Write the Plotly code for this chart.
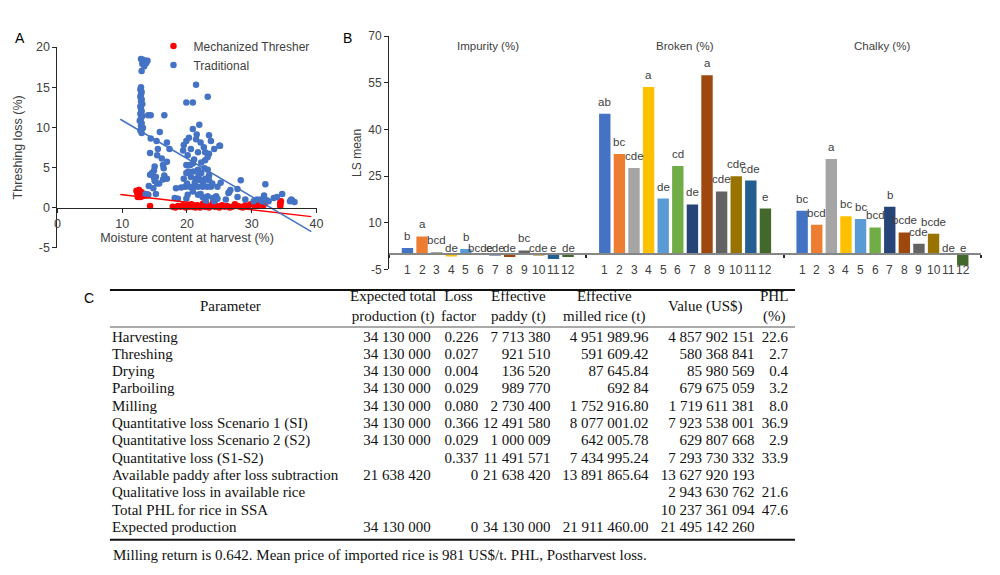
import plotly.graph_objects as go

# ---------------- Panel A data ----------------
mech_points = [
    (12.2, 2.1), (12.3, 1.9), (12.4, 1.7), (12.5, 2.0), (12.6, 1.5), (12.7, 1.8), (12.8, 1.3),
    (12.9, 1.6), (13.0, 1.9), (13.1, 1.4), (13.2, 1.7), (13.3, 1.5), (13.5, 1.6), (13.8, 1.5),
    (14.0, 1.6), (12.4, 1.3), (12.6, 2.2), (14.3, 0.2),
    (17.8, 0.1), (18.2, 0.0), (18.6, 0.2), (19.0, 0.1), (19.4, 0.3), (19.8, 0.0), (20.1, 0.2),
    (20.4, 0.1), (20.7, 0.4), (21.0, 0.2), (21.3, 0.0), (21.6, 0.3), (21.9, 0.1), (22.2, 0.2),
    (22.5, 0.5), (22.8, 0.1), (23.1, 0.3), (23.4, 0.0), (23.7, 0.2), (24.0, 0.6), (24.3, 0.1),
    (24.6, 0.2), (25.0, 0.0), (25.4, 0.3), (25.8, 0.1), (26.2, 0.2), (26.6, 0.0), (27.0, 0.1),
    (27.4, 0.4), (27.8, 0.2), (28.2, 0.1), (28.6, 0.0), (29.0, 0.3), (29.4, 0.1), (29.8, 0.4),
    (20.9, 0.1), (22.0, 0.0), (23.0, 0.1), (24.4, 0.3), (21.5, 0.1),
    (30.5, 0.2), (30.8, 0.5), (31.0, 0.3), (31.2, 0.7), (31.4, 0.4), (31.6, 0.8), (31.8, 0.3),
    (32.0, 0.5), (34.4, 0.2), (34.4, 0.4), (34.4, 0.6), (34.5, 0.8),
]
trad_points = [
    (12.9, 18.5), (13.2, 18.4), (13.6, 18.3), (13.9, 18.3), (13.1, 17.9), (13.4, 17.6), (13.0, 17.0), (13.7, 18.0),
    (12.9, 15.0), (12.8, 14.7), (13.0, 14.4), (12.9, 14.1), (12.8, 13.8), (13.0, 13.5), (12.9, 13.2), (13.1, 12.9),
    (12.8, 12.6), (12.9, 12.3), (13.0, 12.0), (12.8, 11.7), (13.1, 11.4), (12.9, 11.1), (12.7, 10.8), (13.0, 10.5),
    (12.9, 10.2), (13.2, 9.9), (12.8, 9.6), (13.0, 9.3),
    (14.0, 11.5), (14.4, 11.5), (16.5, 11.5), (15.8, 9.4), (14.4, 8.6), (16.9, 8.1), (15.3, 8.3), (15.5, 7.3),
    (14.3, 6.8), (17.3, 7.3), (16.1, 6.1), (15.4, 6.5), (16.3, 5.3), (15.0, 5.1), (14.9, 4.6), (14.3, 4.1),
    (14.9, 3.7), (15.0, 3.3), (15.4, 3.0), (16.3, 3.5), (16.9, 3.6), (16.4, 4.9), (16.9, 5.7), (14.1, 2.7),
    (15.2, 1.7), (14.0, 1.6), (13.6, 1.7), (14.6, 4.3), (15.7, 3.0), (16.5, 4.0), (15.2, 3.8), (14.8, 2.4),
    (19.9, 13.1), (20.9, 13.1), (21.4, 15.3), (23.2, 13.8), (20.9, 9.8), (21.9, 10.3), (21.5, 9.1), (21.4, 8.5),
    (19.9, 8.3), (19.5, 7.8), (20.3, 8.7), (22.1, 8.1), (22.6, 7.5), (23.4, 9.0), (23.7, 8.3), (24.2, 7.3),
    (25.0, 7.7), (23.4, 6.7), (22.8, 6.9), (21.7, 6.9), (20.6, 7.3), (19.4, 7.1), (23.2, 6.3), (22.2, 5.6),
    (22.8, 5.9), (21.1, 6.0), (20.1, 6.5), (20.9, 5.5),
    (19.9, 5.3), (20.5, 5.3), (20.2, 4.5), (21.0, 4.5), (21.7, 4.7), (22.2, 4.3), (22.7, 4.9), (23.2, 4.7),
    (23.4, 4.0), (20.6, 3.8), (21.4, 3.6), (22.1, 3.4), (22.8, 3.6), (23.4, 3.4), (23.7, 2.6), (23.1, 2.6),
    (22.4, 2.6), (21.7, 2.6), (21.0, 2.6), (20.4, 2.6), (19.7, 2.6), (19.1, 2.5), (18.3, 2.4), (19.5, 3.6),
    (19.9, 4.3), (21.2, 3.1), (22.5, 3.1), (20.0, 3.0), (23.9, 3.0), (21.8, 4.0),
    (20.1, 1.6), (20.9, 2.0), (21.7, 1.6), (22.1, 1.7), (22.4, 1.3), (23.2, 1.4), (24.0, 1.2), (24.5, 1.4),
    (18.1, 1.2), (18.6, 1.1), (19.9, 1.1), (22.9, 0.8), (24.2, 0.8), (24.7, 2.6), (25.2, 3.1), (24.7, 1.1),
    (25.1, 7.7), (26.0, 1.0), (26.4, 1.8), (26.5, 1.9), (26.7, 2.2), (27.8, 2.3), (27.8, 1.3), (28.3, 3.4),
    (29.0, 1.0), (30.3, 0.8), (30.8, 1.0), (31.4, 1.0), (31.6, 0.8), (31.9, 1.5), (32.1, 2.9), (32.3, 0.9),
    (32.6, 0.8), (33.4, 1.2), (33.9, 1.3), (34.7, 1.7), (36.1, 1.0), (36.2, 0.9), (36.6, 0.7), (35.9, 0.8),
]
mech_x = [p[0] for p in mech_points]
mech_y = [p[1] for p in mech_points]
trad_x = [p[0] for p in trad_points]
trad_y = [p[1] for p in trad_points]
trend_x = [9.7, 39.2]
mech_trend_y = [1.62, -1.13]
trad_trend_y = [11.0, -3.0]

# ---------------- Panel B data ----------------
groups = ["Impurity (%)", "Broken (%)", "Chalky (%)"]
treatments = ["1", "2", "3", "4", "5", "6", "7", "8", "9", "10", "11", "12"]
impurity = [1.9, 5.6, 0.6, -0.8, 1.6, 0.0, -0.5, -1.0, 1.1, -0.5, -1.6, -1.0]
broken = [45.1, 32.1, 27.6, 53.7, 17.8, 28.3, 15.9, 57.5, 20.1, 25.0, 23.6, 14.6]
chalky = [13.9, 9.4, 30.5, 12.1, 11.2, 8.5, 15.2, 6.9, 3.3, 6.5, 0.0, -3.7]
impurity_letters = ["b", "a", "bcd", "de", "b", "bcde", "cde", "de", "bc", "cde", "e", "de"]
broken_letters = ["ab", "bc", "cde", "a", "de", "cd", "de", "a", "cde", "cde", "cde", "e"]
chalky_letters = ["bc", "bcd", "a", "bc", "bc", "bcd", "b", "bcde", "cde", "bcde", "de", "e"]
bar_colors = ["#4472C4", "#ED7D31", "#A5A5A5", "#FFC000", "#5B9BD5", "#70AD47",
              "#264478", "#9E480E", "#636363", "#997300", "#255E91", "#43682B"]

# ---------------- Panel C data ----------------
table_header = ["Parameter", "Expected total<br>production (t)", "Loss<br>factor",
                "Effective<br>paddy (t)", "Effective<br>milled rice (t)", "Value (US$)", "PHL<br>(%)"]
parameters = ["Harvesting", "Threshing", "Drying", "Parboiling", "Milling",
              "Quantitative loss Scenario 1 (SI)", "Quantitative loss Scenario 2 (S2)",
              "Quantitative loss (S1-S2)", "Available paddy after loss subtraction",
              "Qualitative loss in available rice", "Total PHL for rice in SSA", "Expected production"]
expected_production = ["34 130 000"] * 7 + ["", "21 638 420", "", "", "34 130 000"]
loss_factor = ["0.226", "0.027", "0.004", "0.029", "0.080", "0.366", "0.029", "0.337", "0", "", "", "0"]
effective_paddy = ["7 713 380", "921 510", "136 520", "989 770", "2 730 400", "12 491 580", "1 000 009",
                   "11 491 571", "21 638 420", "", "", "34 130 000"]
milled_rice = ["4 951 989.96", "591 609.42", "87 645.84", "692 84", "1 752 916.80", "8 077 001.02",
               "642 005.78", "7 434 995.24", "13 891 865.64", "", "", "21 911 460.00"]
value_usd = ["4 857 902 151", "580 368 841", "85 980 569", "679 675 059", "1 719 611 381", "7 923 538 001",
             "629 807 668", "7 293 730 332", "13 627 920 193", "2 943 630 762", "10 237 361 094",
             "21 495 142 260"]
phl_pct = ["22.6", "2.7", "0.4", "3.2", "8.0", "36.9", "2.9", "33.9", "", "21.6", "47.6", ""]
footnote = "Milling return is 0.642. Mean price of imported rice is 981 US$/t. PHL, Postharvest loss."

W, H = 1000, 575
SANS = "Arial, Liberation Sans, sans-serif"
SERIF = "Times New Roman, Liberation Serif, serif"
TXT = "#404040"
TBL = "#111111"


def px(x):
    return x / W


def py(y):
    return 1 - y / H


fig = go.Figure()

# ---- Panel A traces ----
fig.add_trace(go.Scatter(x=mech_x, y=mech_y, mode="markers", name="Mechanized Thresher",
                         marker=dict(color="#FF0000", size=6.5), xaxis="x", yaxis="y"))
fig.add_trace(go.Scatter(x=trad_x, y=trad_y, mode="markers", name="Traditional",
                         marker=dict(color="#4472C4", size=6.5), xaxis="x", yaxis="y"))
fig.add_trace(go.Scatter(x=trend_x, y=mech_trend_y, mode="lines", showlegend=False,
                         line=dict(color="#FF0000", width=1.5), xaxis="x", yaxis="y"))
fig.add_trace(go.Scatter(x=trend_x, y=trad_trend_y, mode="lines", showlegend=False,
                         line=dict(color="#4472C4", width=1.5), xaxis="x", yaxis="y"))

# ---- Panel B traces ----
series_by_group = [impurity, broken, chalky]
letters_by_group = [impurity_letters, broken_letters, chalky_letters]
BARGAP = 0.112
for i in range(12):
    fig.add_trace(go.Bar(x=groups, y=[s[i] for s in series_by_group], name=treatments[i],
                         marker=dict(color=bar_colors[i], line=dict(width=0)),
                         showlegend=False, xaxis="x2", yaxis="y2"))

annotations = []
slot = (1 - BARGAP) / 12
for g in range(3):
    for i in range(12):
        v = series_by_group[g][i]
        xc = g + (i - 5.5) * slot
        annotations.append(dict(x=xc, y=max(v, 0), xref="x2", yref="y2", text=letters_by_group[g][i],
                                showarrow=False, yanchor="bottom", yshift=4 if v > 0 else -2,
                                font=dict(family=SANS, size=11.5, color=TXT)))
        annotations.append(dict(x=xc, y=-5, xref="x2", yref="y2", text=treatments[i],
                                showarrow=False, yanchor="middle", yshift=-1,
                                font=dict(family=SANS, size=12, color=TXT)))
    annotations.append(dict(x=g, y=py(40), xref="x2", yref="paper", text=groups[g], showarrow=False,
                            yanchor="middle", font=dict(family=SANS, size=11.5, color=TXT)))

# panel letters
for lab, (lx, ly) in {"A": (17, 32), "B": (348, 32), "C": (87, 298)}.items():
    annotations.append(dict(x=px(lx), y=py(ly), xref="paper", yref="paper", text=lab, showarrow=False,
                            xanchor="center", yanchor="middle", font=dict(family=SANS, size=14, color="black")))

# ---- Panel C: table drawn as text columns on a hidden row axis ----
col_values = [parameters, expected_production, loss_factor, effective_paddy, milled_rice, value_usd, phl_pct]
col_anchor = [110, 432, 480, 553, 652, 759, 793]      # layout: text edge of each column (px)
col_left_aligned = [True, False, False, False, False, False, False]
header_center = [230, 394, 460, 521, 607, 710, 779]   # layout: header centres (px)
rows = list(range(len(parameters)))
for vals, xa, left in zip(col_values, col_anchor, col_left_aligned):
    fig.add_trace(go.Scatter(x=[xa] * len(vals), y=rows, mode="text", text=vals,
                             textposition="middle right" if left else "middle left",
                             textfont=dict(family=SERIF, size=15, color=TBL),
                             showlegend=False, hoverinfo="skip", xaxis="x3", yaxis="y3"))

for htxt, hx in zip(table_header, header_center):
    annotations.append(dict(x=px(hx), y=py(306.5), xref="paper", yref="paper", text=htxt, showarrow=False,
                            xanchor="center", yanchor="middle",
                            font=dict(family=SERIF, size=15, color=TBL)))

annotations.append(dict(x=px(109), y=py(562), xref="paper", yref="paper", text=footnote, showarrow=False,
                        xanchor="left", yanchor="middle", font=dict(family=SERIF, size=15, color=TBL)))

shapes = [
    dict(type="line", xref="paper", yref="paper", x0=px(108), x1=px(800), y0=py(290), y1=py(290),
         line=dict(color=TBL, width=2)),
    dict(type="line", xref="paper", yref="paper", x0=px(108), x1=px(800), y0=py(328), y1=py(328),
         line=dict(color="#555", width=1)),
    dict(type="line", xref="paper", yref="paper", x0=px(108), x1=px(800), y0=py(546), y1=py(546),
         line=dict(color=TBL, width=2)),
]

# axis geometry
yA_dom = [py(246.7), py(41)]
xA_pos = yA_dom[0] + (0 - (-5)) / 25 * (yA_dom[1] - yA_dom[0])
yB_dom = [py(269), py(30)]
xB_pos = yB_dom[0] + (0 - (-5)) / 75 * (yB_dom[1] - yB_dom[0])

fig.update_layout(
    width=W, height=H, margin=dict(l=0, r=0, t=0, b=0),
    paper_bgcolor="white", plot_bgcolor="rgba(0,0,0,0)",
    font=dict(family=SANS, size=12, color=TXT),
    barmode="group", bargap=BARGAP, bargroupgap=0.22,
    showlegend=True,
    legend=dict(x=px(152), y=py(25), xanchor="left", yanchor="top", bgcolor="rgba(0,0,0,0)",
                font=dict(family=SANS, size=12, color=TXT), tracegroupgap=0, itemwidth=30),
    xaxis=dict(domain=[px(55), px(316.7)], range=[0, 40], anchor="free", position=xA_pos,
               tickvals=[0, 10, 20, 30, 40], ticktext=["0", "10", "20", "30", "40"],
               showline=True, linecolor="#262626", linewidth=1, ticks="outside", ticklen=4,
               tickcolor="#262626", showgrid=False, zeroline=False,
               tickfont=dict(family=SANS, size=12.5, color=TXT),
               title=dict(text="Moisture content at harvest (%)", standoff=2,
                          font=dict(family=SANS, size=12.5, color=TXT))),
    yaxis=dict(domain=yA_dom, range=[-5, 20], anchor="x",
               tickvals=[-5, 0, 5, 10, 15, 20], ticktext=["-5", "0", "5", "10", "15", "20"],
               showline=True, linecolor="#262626", linewidth=1, ticks="outside", ticklen=4,
               tickcolor="#262626", showgrid=False, zeroline=False,
               tickfont=dict(family=SANS, size=12.5, color=TXT),
               title=dict(text="Threshing loss (%)", standoff=10,
                          font=dict(family=SANS, size=12.5, color=TXT))),
    xaxis2=dict(domain=[px(390), px(988)], type="category", range=[-0.5, 2.5], anchor="free",
                position=xB_pos, showline=True, linecolor="#868686", linewidth=2,
                ticks="outside", tickson="boundaries", ticklen=3, tickwidth=2, tickcolor="#262626",
                showticklabels=False, showgrid=False, zeroline=False),
    yaxis2=dict(domain=yB_dom, range=[-5, 70], anchor="x2",
                tickvals=[-5, 10, 25, 40, 55, 70], ticktext=["-5", "10", "25", "40", "55", "70"],
                showline=True, linecolor="#262626", linewidth=1, ticks="outside", ticklen=4,
                tickcolor="#262626", showgrid=False, zeroline=False,
                tickfont=dict(family=SANS, size=12, color=TXT),
                title=dict(text="LS mean", standoff=4, font=dict(family=SANS, size=12, color=TXT))),
    xaxis3=dict(domain=[0, 1], range=[0, W], anchor="y3", visible=False, fixedrange=True),
    yaxis3=dict(domain=[py(543.0), py(330.2)], range=[len(parameters) - 0.5, -0.5], anchor="x3",
                visible=False, fixedrange=True),
    annotations=annotations,
    shapes=shapes,
)

fig.write_html("out.html", config={"displayModeBar": False},
               post_script="document.body.style.margin='0px';")
